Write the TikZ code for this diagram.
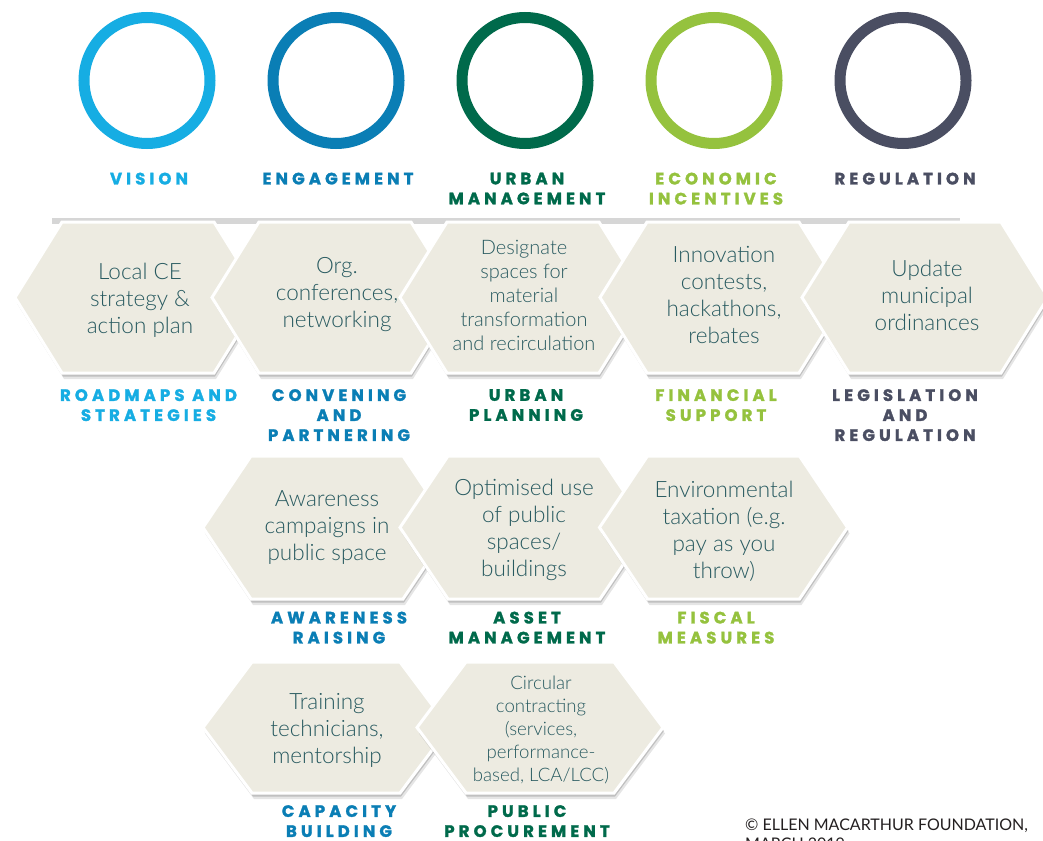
\documentclass[tikz,border=0pt]{standalone}
\usepackage{fontspec}
\setmainfont{Lato}
\newfontfamily\hexfont{Lato Light}
\newfontfamily\labfont{Poppins}[LetterSpace=25, BoldFeatures={FakeBold=1.6}]
\usetikzlibrary{calc}

\definecolor{cvision}{HTML}{16ADE3}
\definecolor{cengage}{HTML}{0A7EB5}
\definecolor{curban}{HTML}{006A4B}
\definecolor{cecon}{HTML}{95C23E}
\definecolor{creg}{HTML}{4A4E62}
\definecolor{hexfill}{HTML}{EDEBE1}
\definecolor{hextxt}{HTML}{285A60}
\definecolor{barcol}{HTML}{D6D6D6}
\definecolor{copycol}{HTML}{231F20}

\tikzset{
  ring/.style={line width=11pt},
  lab/.style={font=\labfont\bfseries\fontsize{16.5}{20}\selectfont, align=center, anchor=north, inner sep=0pt},
  hextext/.style={text=hextxt, align=center, inner sep=0pt, font=\hexfont\fontsize{22.5}{27}\selectfont},
  hexsmall/.style={font=\hexfont\fontsize{20}{24}\selectfont},
  hexsmaller/.style={font=\hexfont\fontsize{18.6}{23}\selectfont},
  hexbody/.style={fill=hexfill, draw=white, line width=3pt, line join=miter},
  hexshadowA/.style={fill=black, opacity=0.10},
  hexshadowB/.style={fill=black, opacity=0.16},
}

% #1 cx, #2 cy, #3 half width, #4 half height, #5 slant
\newcommand\hexagon[5]{%
  \begin{scope}[shift={(#1,#2)}]
    \fill[hexshadowA] (-#3+2,6) -- (-#3+#5+2,-#4+6) -- (#3-#5+2,-#4+6) -- (#3+2,6) -- (#3-#5+2,#4+6) -- (-#3+#5+2,#4+6) -- cycle;
    \fill[hexshadowB] (-#3+1,3.5) -- (-#3+#5+1,-#4+3.5) -- (#3-#5+1,-#4+3.5) -- (#3+1,3.5) -- (#3-#5+1,#4+3.5) -- (-#3+#5+1,#4+3.5) -- cycle;
    \filldraw[hexbody] (-#3,0) -- (-#3+#5,-#4) -- (#3-#5,-#4) -- (#3,0) -- (#3-#5,#4) -- (-#3+#5,#4) -- cycle;
  \end{scope}}

\begin{document}
\begin{tikzpicture}[x=1pt,y=-1pt]
\useasboundingbox[fill=white] (0,0) rectangle (1043,840);

% rings
\draw[ring, cvision] (147,80.5) circle[radius=63];
\draw[ring, cengage] (336,80.5) circle[radius=63];
\draw[ring, curban]  (525,80.5) circle[radius=63];
\draw[ring, cecon]   (714,80.5) circle[radius=63];
\draw[ring, creg]    (903,80.5) circle[radius=63];

% column titles
\node[lab, text=cvision] (tvision) at (149,172.5) {VISION};
\node[lab, text=cengage] (tengage) at (338,172.5) {ENGAGEMENT};
\node[lab, text=curban]  (turban)  at (527,172.5) {URBAN\\MANAGEMENT};
\node[lab, text=cecon]   (tecon)   at (716,172.5) {ECONOMIC\\INCENTIVES};
\node[lab, text=creg]    (treg)    at (905,172.5) {REGULATION};

% grey bar behind first row
\draw[barcol, line width=6pt] (52,221) -- (960,221);

% row 1
\hexagon{138}{297.5}{123}{75.5}{47}
\node[hextext] (h1) at (140,300) {Local CE\\strategy \&\\action plan};
\hexagon{335}{297.5}{123}{75.5}{47}
\node[hextext] (h2) at (337,295) {Org.\\conferences,\\networking};
\hexagon{523}{297.5}{123}{75.5}{47}
\node[hextext, hexsmall] (h3) at (524,295) {Designate\\spaces for\\material\\transformation\\and recirculation};
\hexagon{723}{297.5}{123}{75.5}{47}
\node[hextext] (h4) at (724,294.5) {Innovation\\contests,\\hackathons,\\rebates};
\hexagon{925}{297.5}{123}{75.5}{47}
\node[hextext] (h5) at (927,295.5) {Update\\municipal\\ordinances};

\node[lab, text=cvision] (l1) at (148.5,389) {ROADMAPS AND\\STRATEGIES};
\node[lab, text=cengage] (l2) at (339,389) {CONVENING\\AND\\PARTNERING};
\node[lab, text=curban]  (l3) at (526,389) {URBAN\\PLANNING};
\node[lab, text=cecon]   (l4) at (716,389) {FINANCIAL\\SUPPORT};
\node[lab, text=creg]    (l5) at (905,389) {LEGISLATION\\AND\\REGULATION};

% row 2
\hexagon{327}{527.5}{124}{71.5}{48}
\node[hextext] (h6) at (327,528) {Awareness\\campaigns in\\public space};
\hexagon{524}{527.5}{124}{71.5}{48}
\node[hextext] (h7) at (524,530) {Optimised use\\of public\\spaces/\\buildings};
\hexagon{723.5}{527.5}{124}{71.5}{48}
\node[hextext] (h8) at (724,531) {Environmental\\taxation (e.g.\\pay as you\\throw)};

\node[lab, text=cengage] (l6) at (339,611.5) {AWARENESS\\RAISING};
\node[lab, text=curban]  (l7) at (527,611.5) {ASSET\\MANAGEMENT};
\node[lab, text=cecon]   (l8) at (716,611.5) {FISCAL\\MEASURES};

% row 3
\hexagon{326}{727.5}{123}{65.5}{49}
\node[hextext] (h9) at (327,730.5) {Training\\technicians,\\mentorship};
\hexagon{540}{727.5}{123}{65.5}{49}
\node[hextext, hexsmaller] (h10) at (541,730) {Circular\\contracting\\(services,\\performance-\\based, LCA/LCC)};

\node[lab, text=cengage] (l9)  at (339,805) {CAPACITY\\BUILDING};
\node[lab, text=curban]  (l10) at (527,805) {PUBLIC\\PROCUREMENT};

% credit
\node[anchor=north west, inner sep=0pt, align=left, text=copycol,
      font=\fontsize{16}{19.5}\selectfont] (credit) at (745,818.3)
      {\textcopyright{} ELLEN MACARTHUR FOUNDATION,\\MARCH 2019};
\end{tikzpicture}
\end{document}
